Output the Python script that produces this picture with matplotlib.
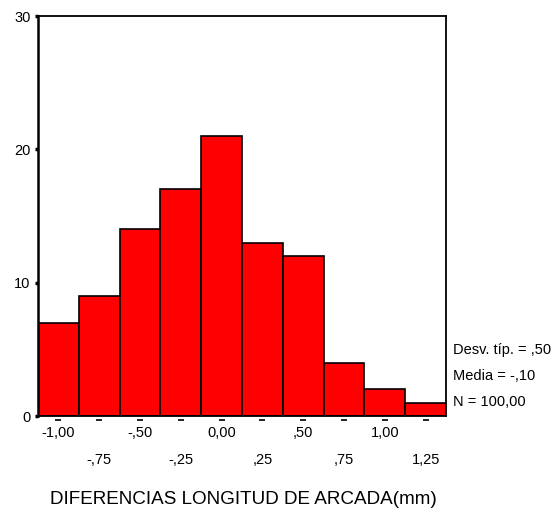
import matplotlib
matplotlib.use("Agg")
import matplotlib.pyplot as plt
from matplotlib.ticker import FixedLocator, FixedFormatter

plt.rcParams['font.family'] = ['Liberation Sans', 'DejaVu Sans']

# Histogram of arch length differences (mm)
bin_centers = [-1.00, -0.75, -0.50, -0.25, 0.00, 0.25, 0.50, 0.75, 1.00, 1.25]
counts = [7, 9, 14, 17, 21, 13, 12, 4, 2, 1]
bin_width = 0.25

major_ticks = [-1.00, -0.50, 0.00, 0.50, 1.00]
major_labels = ["-1,00", "-,50", "0,00", ",50", "1,00"]
minor_ticks = [-0.75, -0.25, 0.25, 0.75, 1.25]
minor_labels = ["-,75", "-,25", ",25", ",75", "1,25"]
y_ticks = [0, 10, 20, 30]

stats_lines = ["Desv. típ. = ,50", "Media = -,10", "N = 100,00"]
x_title = "DIFERENCIAS LONGITUD DE ARCADA(mm)"

fs = 10.5

fig = plt.figure(figsize=(5.52, 5.15), dpi=100)
ax = fig.add_axes([38 / 552, 1 - 416 / 515, (446 - 38) / 552, (416 - 16) / 515])

ax.bar(bin_centers, counts, width=bin_width, color="#ff0000",
       edgecolor="black", linewidth=1.2, zorder=2)

ax.set_xlim(bin_centers[0] - bin_width / 2, bin_centers[-1] + bin_width / 2)
ax.set_ylim(0, 30)

for s in ax.spines.values():
    s.set_linewidth(1.3)
    s.set_color("black")
ax.spines["left"].set_linewidth(1.8)

# y ticks: small square marks
ax.set_yticks(y_ticks)
ax.tick_params(axis="y", direction="out", length=2.5, width=2.5, pad=3,
               labelsize=fs)

# x tick labels on two staggered rows
ax.xaxis.set_major_locator(FixedLocator(major_ticks))
ax.xaxis.set_major_formatter(FixedFormatter(major_labels))
ax.xaxis.set_minor_locator(FixedLocator(minor_ticks))
ax.xaxis.set_minor_formatter(FixedFormatter(minor_labels))
ax.tick_params(axis="x", which="major", length=0, pad=7, labelsize=fs)
ax.tick_params(axis="x", which="minor", length=0, pad=26.5, labelsize=fs)

# short dash marks below each bin centre
ax.plot(bin_centers, [-0.3] * len(bin_centers), linestyle="none",
        marker="_", markersize=4, markeredgewidth=1.2, color="black",
        clip_on=False, zorder=3)

# summary statistics to the right of the plot
for i, line in enumerate(stats_lines):
    fig.text(453 / 552, 1 - (350 + 26 * i) / 515, line, fontsize=fs,
             ha="left", va="center")

fig.text(243 / 552, 1 - 500 / 515, x_title, fontsize=13.6,
         ha="center", va="center")

fig.savefig("out.png", dpi=100)
